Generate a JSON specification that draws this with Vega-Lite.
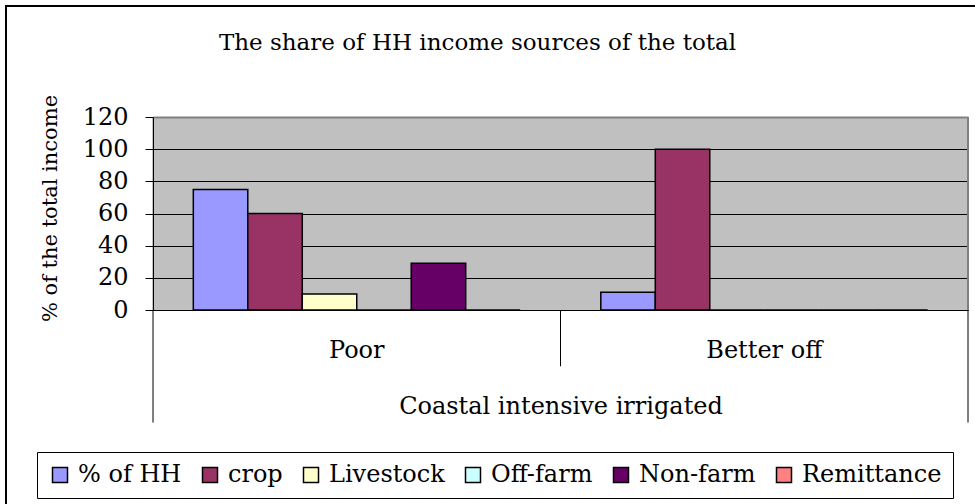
{
  "$schema": "https://vega.github.io/schema/vega-lite/v6.json",
  "width": 989,
  "height": 518,
  "autosize": {"type": "none"},
  "padding": {"left": 6, "top": 6, "right": -20, "bottom": -20},
  "background": "white",
  "config": {
    "font": "DejaVu Serif",
    "view": {"stroke": "black", "strokeWidth": 2, "fill": "white"}
  },
  "title": {
    "text": "The share of HH income sources of the total",
    "fontSize": 23,
    "fontWeight": "normal",
    "font": "DejaVu Serif",
    "color": "black",
    "anchor": "middle",
    "frame": "group",
    "offset": -67,
    "baseline": "alphabetic",
    "dx": -23
  },
  "datasets": {
    "income": [
      {"group": "Poor", "source": "% of HH", "value": 75},
      {"group": "Poor", "source": "crop", "value": 60},
      {"group": "Poor", "source": "Livestock", "value": 10},
      {"group": "Poor", "source": "Off-farm", "value": 0},
      {"group": "Poor", "source": "Non-farm", "value": 29},
      {"group": "Poor", "source": "Remittance", "value": 0},
      {"group": "Better off", "source": "% of HH", "value": 11},
      {"group": "Better off", "source": "crop", "value": 100},
      {"group": "Better off", "source": "Livestock", "value": 0},
      {"group": "Better off", "source": "Off-farm", "value": 0},
      {"group": "Better off", "source": "Non-farm", "value": 0},
      {"group": "Better off", "source": "Remittance", "value": 0}
    ]
  },
  "layer": [
    {
      "data": {"name": "income"},
      "mark": {"type": "bar", "stroke": "black", "strokeWidth": 1.5},
      "encoding": {
        "x": {
          "field": "group",
          "type": "nominal",
          "sort": ["Poor", "Better off"],
          "scale": {"domain": ["Poor", "Better off"], "range": [147, 962], "paddingInner": 0, "paddingOuter": 0},
          "axis": {
            "orient": "top",
            "offset": -304,
            "title": "Coastal intensive irrigated",
            "titleFontSize": 24,
            "titleFontWeight": "normal",
            "titleColor": "black",
            "titleY": 103,
            "titleBaseline": "alphabetic",
            "labelFontSize": 24,
            "labelColor": "black",
            "labelAngle": 0,
            "labelBaseline": "alphabetic",
            "labelPadding": -47,
            "ticks": false,
            "tickSize": 0,
            "domainColor": "black",
            "domainWidth": 1,
            "grid": true,
            "gridColor": "#C0C0C0",
            "gridWidth": 409,
            "gridOpacity": 1,
            "bandPosition": 0.5
          }
        },
        "xOffset": {
          "field": "source",
          "type": "nominal",
          "sort": ["% of HH", "crop", "Livestock", "Off-farm", "Non-farm", "Remittance"],
          "scale": {"paddingInner": 0, "paddingOuter": 0.74}
        },
        "y": {
          "field": "value",
          "type": "quantitative",
          "scale": {"domain": [0, 120], "range": [304, 111], "nice": false, "zero": true},
          "axis": {
            "values": [0, 20, 40, 60, 80, 100, 120],
            "offset": -147,
            "title": "% of the total income",
            "titleFontSize": 21,
            "titleFontWeight": "normal",
            "titleColor": "black",
            "titleX": -103,
            "titleY": 202,
            "titleAngle": -90,
            "titleBaseline": "middle",
            "titleAlign": "center",
            "labelFontSize": 24,
            "labelColor": "black",
            "labelPadding": 17,
            "labelOverlap": false,
            "labelFlush": false,
            "tickSize": 8,
            "tickColor": "black",
            "domainColor": "black",
            "domainWidth": 1,
            "grid": true,
            "gridColor": {"condition": {"test": "datum.value === 120", "value": "#808080"}, "value": "black"},
            "gridWidth": {"condition": {"test": "datum.value === 120", "value": 2}, "value": 1},
            "gridOpacity": 1
          }
        },
        "color": {
          "field": "source",
          "type": "nominal",
          "sort": ["% of HH", "crop", "Livestock", "Off-farm", "Non-farm", "Remittance"],
          "scale": {
            "domain": ["% of HH", "crop", "Livestock", "Off-farm", "Non-farm", "Remittance"],
            "range": ["#9999FF", "#993366", "#FFFFCC", "#CCFFFF", "#660066", "#FF8080"]
          },
          "legend": {
            "orient": "none",
            "legendX": 31,
            "legendY": 446,
            "direction": "horizontal",
            "title": null,
            "labelFontSize": 24,
            "labelColor": "black",
            "labelLimit": 0,
            "symbolType": "square",
            "symbolSize": 225,
            "symbolStrokeColor": "black",
            "symbolStrokeWidth": 1.5,
            "symbolOpacity": 1,
            "labelOffset": 6,
            "columnPadding": 16,
            "padding": 11,
            "strokeColor": "black",
            "fillColor": "white"
          }
        }
      }
    },
    {
      "data": {"values": [{"group": "Poor"}]},
      "mark": {"type": "rule", "color": "black", "strokeWidth": 1},
      "encoding": {
        "x": {"field": "group", "type": "nominal", "bandPosition": 0},
        "y": {"datum": 0, "type": "quantitative"},
        "y2": {"datum": -70}
      }
    },
    {
      "data": {"values": [{"group": "Better off"}]},
      "mark": {"type": "rule", "color": "black", "strokeWidth": 1},
      "encoding": {
        "x": {"field": "group", "type": "nominal", "bandPosition": 0},
        "y": {"datum": 0, "type": "quantitative"},
        "y2": {"datum": -35}
      }
    },
    {
      "data": {"values": [{"group": "Better off"}]},
      "mark": {"type": "rule", "color": "black", "strokeWidth": 1},
      "encoding": {
        "x": {"field": "group", "type": "nominal", "bandPosition": 1},
        "y": {"datum": 0, "type": "quantitative"},
        "y2": {"datum": -70}
      }
    },
    {
      "data": {"values": [{"group": "Better off"}]},
      "mark": {"type": "rule", "color": "#808080", "strokeWidth": 2},
      "encoding": {
        "x": {"field": "group", "type": "nominal", "bandPosition": 1},
        "y": {"datum": 0, "type": "quantitative"},
        "y2": {"datum": 120}
      }
    }
  ]
}
